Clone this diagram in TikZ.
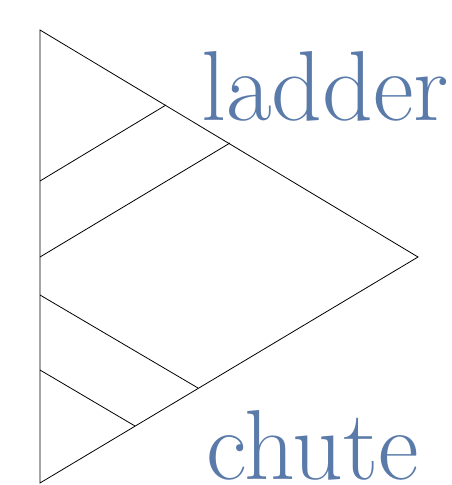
\documentclass[tikz,border=0pt]{standalone}
\usepackage{xcolor}
\definecolor{labelblue}{HTML}{5A7BAA}
\begin{document}
\begin{tikzpicture}[x=1pt,y=-1pt,
  edge/.style={draw=black,line width=0.8pt,line join=miter},
  lbl/.style={text=labelblue,font=\fontsize{99.5}{99.5}\selectfont,inner sep=0pt,anchor=base west}]
\useasboundingbox (0,0) rectangle (452,485);
\coordinate (A) at (40,30);
\coordinate (B) at (40,483);
\coordinate (C) at (418,257);
\coordinate (L1) at (40,181);
\coordinate (L1e) at (166,105);
\coordinate (L2) at (40,257);
\coordinate (L2e) at (230,143);
\coordinate (L3) at (40,295);
\coordinate (L3e) at (198,388);
\coordinate (L4) at (40,370);
\coordinate (L4e) at (135,426);
\draw[edge] (A) -- (C) -- (B) -- cycle;
\draw[edge] (L1) -- (L1e);
\draw[edge] (L2) -- (L2e);
\draw[edge] (L3) -- (L3e);
\draw[edge] (L4) -- (L4e);
\node[lbl] (ladder) at (201,120) {ladder};
\node[lbl] (chute) at (206,479) {chute};
\end{tikzpicture}
\end{document}
